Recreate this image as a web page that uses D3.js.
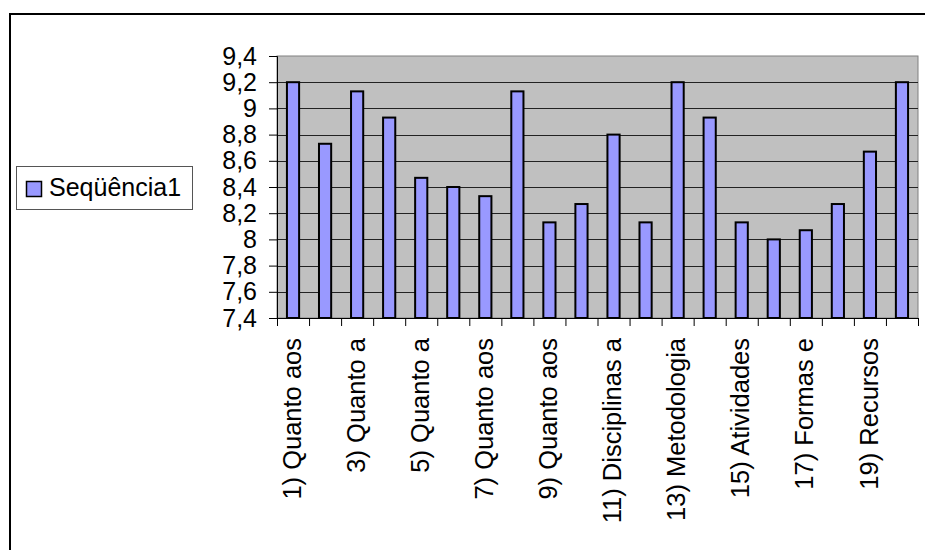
<!DOCTYPE html>
<html>
<head>
    <meta charset="utf-8">
    <title>Seqüência1</title>
    <script src="https://d3js.org/d3.v7.min.js"></script>
    <style>
        body { margin: 0; background: #fff; }
        text { font-family: "Liberation Sans", Arial, sans-serif; }
    </style>
</head>
<body>
    <div id="chart"></div>
    <script>

        // data
        var categories = ["1) Quanto aos", "2)", "3) Quanto a", "4)", "5) Quanto a",
                          "6)", "7) Quanto aos", "8)", "9) Quanto aos", "10)",
                          "11) Disciplinas a", "12)", "13) Metodologia", "14)", "15) Atividades",
                          "16)", "17) Formas e", "18)", "19) Recursos", "20)"];
        var values = [9.2, 8.73, 9.13, 8.93, 8.47, 8.4, 8.33, 9.13, 8.13, 8.27,
                      8.8, 8.13, 9.2, 8.93, 8.13, 8.0, 8.07, 8.27, 8.67, 9.2];
        var yTicks = [7.4, 7.6, 7.8, 8, 8.2, 8.4, 8.6, 8.8, 9, 9.2, 9.4];
        var seriesName = "Seqüência1";

        var plot = {left: 277, top: 56, right: 918, bottom: 318};

        var svg = d3.select("#chart")
                    .append("svg")
                    .attr("width", 925)
                    .attr("height", 550);

        // outer chart frame (cut off at the right and bottom)
        svg.append("rect")
            .attr("x", 10)
            .attr("y", 14)
            .attr("width", 940)
            .attr("height", 560)
            .attr("fill", "#fff")
            .attr("stroke", "#000")
            .attr("stroke-width", 2);

        var x = d3.scaleBand()
                    .domain(categories)
                    .range([plot.left, plot.right])
                    .paddingInner(0.62)
                    .paddingOuter(0.31);

        var xEdge = d3.scaleLinear()
                    .domain([0, categories.length])
                    .range([plot.left, plot.right]);

        var y = d3.scaleLinear()
                    .domain([7.4, 9.4])
                    .range([plot.bottom, plot.top]);

        // plot background
        svg.append("rect")
            .attr("x", plot.left)
            .attr("y", plot.top)
            .attr("width", plot.right - plot.left)
            .attr("height", plot.bottom - plot.top)
            .attr("fill", "#c0c0c0")
            .attr("stroke", "#808080")
            .attr("stroke-width", 1);

        // gridlines
        svg.append("g")
            .selectAll("line")
            .data(yTicks.slice(1, -1))
            .join("line")
            .attr("x1", plot.left)
            .attr("x2", plot.right)
            .attr("y1", function(d) { return Math.round(y(d)) + 0.5; })
            .attr("y2", function(d) { return Math.round(y(d)) + 0.5; })
            .attr("stroke", "#222")
            .attr("stroke-width", 1);

        // bars
        svg.append("g")
            .selectAll("rect")
            .data(values)
            .join("rect")
            .attr("x", function(d, i) { return x(categories[i]); })
            .attr("y", function(d) { return y(d); })
            .attr("width", x.bandwidth())
            .attr("height", function(d) { return y(7.4) - y(d); })
            .attr("fill", "#9999ff")
            .attr("stroke", "#000")
            .attr("stroke-width", 2);

        // y axis
        var yAxis = svg.append("g")
            .attr("transform", "translate(" + plot.left + ",0)")
            .call(d3.axisLeft(y)
                .tickValues(yTicks)
                .tickSize(8)
                .tickPadding(12)
                .tickFormat(function(d) { return String(d).replace(".", ","); }));
        yAxis.select(".domain").attr("stroke", "#000");
        yAxis.selectAll("line").attr("stroke", "#000");
        yAxis.selectAll("text")
            .attr("fill", "#000")
            .style("font-size", "25px")
            .style("font-family", "'Liberation Sans', Arial, sans-serif");

        // x axis: ticks on category edges
        var xAxis = svg.append("g")
            .attr("transform", "translate(0," + plot.bottom + ")")
            .call(d3.axisBottom(xEdge)
                .tickValues(d3.range(categories.length + 1))
                .tickSize(8)
                .tickFormat(""));
        xAxis.select(".domain").attr("stroke", "#000");
        xAxis.selectAll("line").attr("stroke", "#000");

        // category labels, every other one shown
        svg.append("g")
            .selectAll("text")
            .data(categories.filter(function(d, i) { return i % 2 === 0; }))
            .join("text")
            .attr("transform", function(d) {
                return "translate(" + (x(d) + x.bandwidth() / 2) + ",338) rotate(-90)";
            })
            .attr("dy", "0.3em")
            .attr("text-anchor", "end")
            .style("font-size", "25.5px")
            .text(function(d) { return d; });

        // legend
        svg.append("rect")
            .attr("x", 16.5)
            .attr("y", 166.5)
            .attr("width", 176)
            .attr("height", 43)
            .attr("fill", "#fff")
            .attr("stroke", "#555")
            .attr("stroke-width", 1);
        svg.append("rect")
            .attr("x", 26.5)
            .attr("y", 181.5)
            .attr("width", 15)
            .attr("height", 15)
            .attr("fill", "#9999ff")
            .attr("stroke", "#000")
            .attr("stroke-width", 1.5);
        svg.append("text")
            .attr("x", 49)
            .attr("y", 196)
            .style("font-size", "25px")
            .text(seriesName);

    </script>
</body>
</html>
